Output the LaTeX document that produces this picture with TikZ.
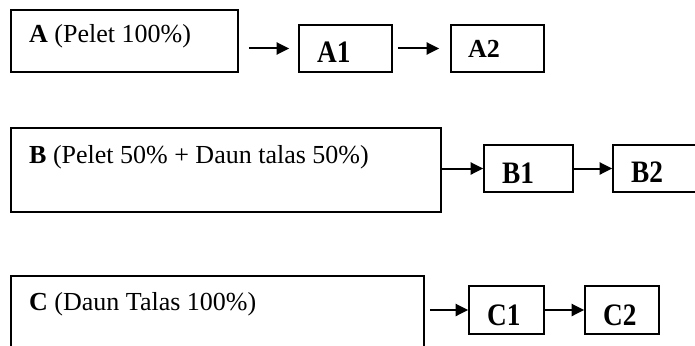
\documentclass[tikz,border=0pt]{standalone}
\usepackage{fontspec}
\setmainfont{Liberation Serif}
\usepackage{graphicx}
\usetikzlibrary{arrows.meta}
\tikzset{
  box/.style={draw=black, line width=1.6pt, rectangle, inner sep=0pt, fill=none},
  body/.style={inner sep=0pt, anchor=base west, font=\fontsize{26}{30}\selectfont},
  lab/.style={inner sep=0pt, anchor=base west, font=\fontsize{26}{30}\selectfont\bfseries},
  arr/.style={line width=2pt, -{Triangle[length=12.5pt,width=12pt]}}
}
\newcommand{\tallb}[1]{\scalebox{1.05}[1.2]{#1}}
\begin{document}
\begin{tikzpicture}[x=1pt,y=-1pt]
\useasboundingbox (0,0) rectangle (695,345);
\clip (0,0) rectangle (695,345);
% row A
\node[box, minimum width=227pt, minimum height=62pt] (A) at (124.5,41) {};
\node[box, minimum width=93pt, minimum height=47pt] (A1) at (345.5,48.5) {};
\node[box, minimum width=93pt, minimum height=47pt] (A2) at (497.5,48.5) {};
\node[body] (At) at (29,43) {\textbf{A} (Pelet 100\%)};
\node[lab] (A1t) at (317,63) {\tallb{A1}};
\node[lab] (A2t) at (468,58) {A2};
\draw[arr] ([xshift=10]A.east |- A1.west) -- ([xshift=-9]A1.west);
\draw[arr] ([xshift=5]A1.east) -- ([xshift=-11]A2.west);
% row B
\node[box, minimum width=430pt, minimum height=84pt] (B) at (226,170) {};
\node[box, minimum width=89pt, minimum height=47pt] (B1) at (528.5,168.5) {};
\node[box, minimum width=97pt, minimum height=47pt] (B2) at (661.5,168.5) {};
\node[body] (Bt) at (29,163) {\textbf{B} (Pelet 50\% + Daun talas 50\%)};
\node[lab] (B1t) at (502,183) {\tallb{B1}};
\node[lab] (B2t) at (631,182) {\tallb{B2}};
\draw[arr] (B.east |- B1.west) -- (B1.west);
\draw[arr] (B1.east) -- (B2.west);
% row C
\node[box, minimum width=413pt, minimum height=94pt] (C) at (217.5,323) {};
\node[box, minimum width=75pt, minimum height=48pt] (C1) at (506.5,310) {};
\node[box, minimum width=74pt, minimum height=48pt] (C2) at (622,310) {};
\node[body] (Ct) at (29,310) {\textbf{C} (Daun Talas 100\%)};
\node[lab] (C1t) at (487,325) {\tallb{C1}};
\node[lab] (C2t) at (603,325) {\tallb{C2}};
\draw[arr] ([xshift=5]C.east |- C1.west) -- (C1.west);
\draw[arr] (C1.east) -- (C2.west);
\end{tikzpicture}
\end{document}
